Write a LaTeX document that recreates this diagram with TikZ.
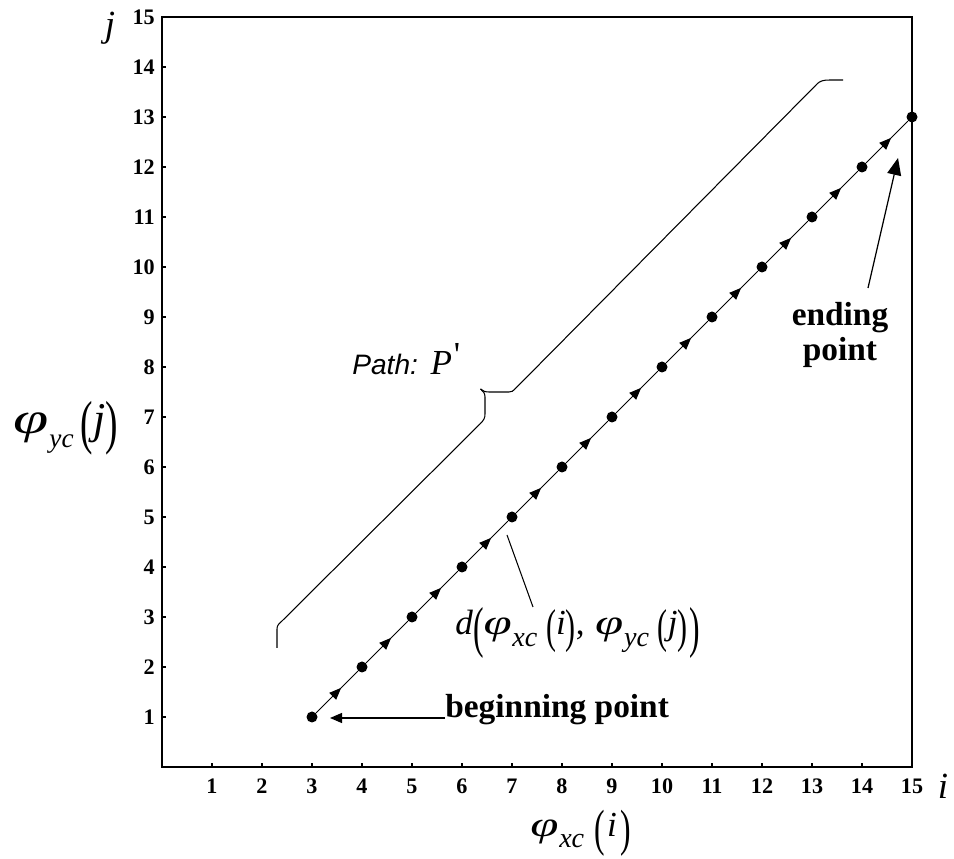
\documentclass[tikz,border=0pt]{standalone}
\usepackage{fontspec}
\usepackage{graphicx}
\setmainfont{Liberation Serif}
\newfontfamily\labsans{Liberation Sans}
\usetikzlibrary{arrows.meta,decorations.markings,calc}
\newcommand\VPh[2][0.62]{\scalebox{1.45}[1]{\textit{φ}}\kern0.02em\raisebox{-0.32em}{\scalebox{#1}{\textit{#2}}}}
\newcommand\VLp{\raisebox{-0.2em}{\scalebox{0.85}[1.35]{(}}}
\newcommand\VRp{\raisebox{-0.2em}{\scalebox{0.85}[1.35]{)}}}
\newcommand\VBLp{\raisebox{-0.32em}{\scalebox{0.9}[1.6]{(}}}
\newcommand\VBRp{\raisebox{-0.32em}{\scalebox{0.9}[1.6]{)}}}
\newcommand\VMLp{\raisebox{-0.26em}{\scalebox{0.9}[1.45]{(}}}
\newcommand\VMRp{\raisebox{-0.26em}{\scalebox{0.9}[1.45]{)}}}
\begin{document}
\begin{tikzpicture}[x=1cm,y=1cm,
  frame/.style={line width=1.1pt},
  ticklab/.style={font=\bfseries\fontsize{12.6}{15}\selectfont, inner sep=0pt},
  ptdot/.style={circle, fill=black, minimum size=0.22cm, inner sep=0pt},
  seg/.style={line width=0.6pt, postaction={decorate},
    decoration={markings, mark=at position 0.6 with {\arrow{Triangle[length=0.24cm,width=0.19cm]}}}},
  boldlab/.style={font=\bfseries\fontsize{19}{22}\selectfont, inner sep=0pt},
  mathlab/.style={font=\fontsize{20}{24}\selectfont, inner sep=0pt},
  biglab/.style={font=\fontsize{25}{30}\selectfont, inner sep=0pt},
  thinline/.style={line width=0.6pt},
  smallhead/.style={-{Triangle[length=0.24cm,width=0.2cm]}, line width=0.7pt},
  bighead/.style={-{Triangle[length=0.34cm,width=0.28cm]}, line width=0.7pt}
]
\useasboundingbox (-3.24,-1.84) rectangle (15.84,15.34);

% frame and ticks
\draw[frame] (0,0) rectangle (15,15);
\foreach \k in {1,...,14} {
  \draw[line width=0.8pt] (\k,0) -- (\k,0.08);
  \draw[line width=0.8pt] (0,\k) -- (0.08,\k);
}
\foreach \k in {1,...,15} {
  \node[ticklab] (xl\k) at (\k,-0.38) {\k};
  \node[ticklab, anchor=east] (yl\k) at (-0.14,\k) {\k};
}

% axis letters
\node[font=\fontsize{21}{24}\selectfont\itshape, inner sep=0pt] (jlab) at (-1.04,14.78) {j};
\node[font=\fontsize{21}{24}\selectfont\itshape, inner sep=0pt] (ilab) at (15.62,-0.38) {i};

% axis titles
\node[biglab, anchor=west] (ytitle) at (-2.98,6.78) {\VPh{yc}\,\VLp\textit{j}\VRp};
\node[mathlab, anchor=south west] (xtitle) at (7.36,-1.79) {\VPh[0.8]{xc}\hspace{0.3em}\VMLp\hspace{0.05em}\textit{i}\hspace{0.1em}\VMRp};

% path points
\foreach \k [evaluate=\k as \j using int(\k-2)] in {3,...,15} {
  \node[ptdot] (p\k) at (\k,\j) {};
}
\foreach \k [evaluate=\k as \n using int(\k+1)] in {3,...,14} {
  \draw[seg] (p\k) -- (p\n);
}

% brace
\draw[thinline] (2.30,2.38) -- (2.30,2.76) .. controls (2.30,2.84) and (2.34,2.86) .. (2.40,2.92)
  -- (6.36,6.86) .. controls (6.44,6.94) and (6.46,6.98) .. (6.46,7.06)
  -- (6.46,7.40) .. controls (6.46,7.48) and (6.42,7.52) .. (6.37,7.56);
\draw[thinline] (6.37,7.56) .. controls (6.42,7.52) and (6.46,7.50) .. (6.54,7.50)
  -- (6.94,7.50) .. controls (7.0,7.50) and (7.02,7.52) .. (7.06,7.56)
  -- (13.10,13.66) .. controls (13.16,13.72) and (13.22,13.74) .. (13.36,13.74) -- (13.62,13.74);

% path label
\node[anchor=base west, inner sep=0pt] (plab) at (3.80,7.84)
  {\labsans\itshape\fontsize{16}{19}\selectfont Path:\hspace{0.45em}{\rmfamily\fontsize{20}{24}\selectfont P\hspace{0.05em}\raisebox{0.25em}{\upshape\textquotesingle}}};

% distance label
\node[mathlab, anchor=base west] (dlab) at (5.86,2.64)
  {\textit{d}\VBLp\VPh[0.8]{xc}\hspace{0.25em}\VLp\textit{i}\VRp,\hspace{0.3em}\VPh[0.8]{yc}\hspace{0.25em}\VLp\textit{j}\VRp\hspace{0.05em}\VBRp};
\coordinate (dtop) at (6.90,4.64);
\coordinate (dbot) at (7.42,3.20);
\draw[thinline] (dtop) -- (dbot);

% beginning point
\node[boldlab, anchor=base west] (bp) at (5.66,0.98) {beginning point};
\coordinate (bptip) at (3.36,0.98);
\draw[smallhead] (bp.base west) -- (bptip);

% ending point
\node[boldlab, align=center, anchor=north] (ep) at (13.56,9.30) {ending\\[-2pt]point};
\coordinate (eptip) at (14.72,12.18);
\draw[bighead] ([xshift=0.56cm,yshift=0.28cm]ep.north) -- (eptip);
\end{tikzpicture}
\end{document}
